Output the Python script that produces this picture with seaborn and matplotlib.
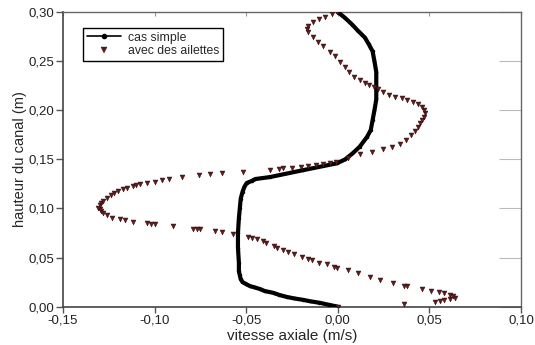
import matplotlib
matplotlib.use("Agg")
import matplotlib.pyplot as plt
import matplotlib.ticker as mticker
from matplotlib.lines import Line2D
import seaborn as sns
import pandas as pd

# cas simple (vitesse axiale, hauteur)
simple_v = [0.000, -0.005, -0.010, -0.015, -0.019, -0.024, -0.028, -0.032, -0.035, -0.040,
            -0.0425, -0.046, -0.048, -0.050, -0.052, -0.053, -0.0535, -0.054, -0.054, -0.0545,
            -0.0545, -0.054, -0.0535, -0.053, -0.052, -0.051, -0.0497, -0.047, -0.045, -0.037,
            -0.019, -0.0005, 0.004, 0.008, 0.012, 0.016, 0.018, 0.019, 0.020, 0.021,
            0.021, 0.021, 0.020, 0.019, 0.017, 0.0148, 0.011, 0.008, 0.004, 0.000]
simple_h = [0.000, 0.002, 0.004, 0.0055, 0.007, 0.0085, 0.010, 0.012, 0.014, 0.016,
            0.018, 0.020, 0.021, 0.023, 0.025, 0.028, 0.032, 0.036, 0.045, 0.060,
            0.075, 0.090, 0.100, 0.110, 0.117, 0.122, 0.126, 0.128, 0.130, 0.132,
            0.139, 0.146, 0.150, 0.156, 0.163, 0.173, 0.180, 0.190, 0.200, 0.211,
            0.225, 0.239, 0.250, 0.260, 0.267, 0.274, 0.281, 0.287, 0.294, 0.300]

# avec des ailettes
fins_v = [0.000, 0.036, 0.053, 0.056, 0.058, 0.061, 0.064, 0.063, 0.061, 0.058,
          0.055, 0.051, 0.046, 0.038, 0.036, 0.030, 0.023, 0.0175, 0.011, 0.0055,
          -0.0005, -0.002, -0.006, -0.010, -0.014, -0.016, -0.0196, -0.024, -0.027, -0.030,
          -0.033, -0.035, -0.039, -0.041, -0.044, -0.047, -0.049, -0.057, -0.063, -0.067,
          -0.075, -0.077, -0.079, -0.090, -0.100, -0.102, -0.104, -0.112, -0.116, -0.119,
          -0.123, -0.126, -0.128, -0.129, -0.130, -0.131, -0.130, -0.129, -0.128, -0.126,
          -0.124, -0.122, -0.120, -0.117, -0.115, -0.112, -0.110, -0.108, -0.104, -0.100,
          -0.096, -0.092, -0.085, -0.076, -0.070, -0.063, -0.052, -0.037, -0.032, -0.030,
          -0.025, -0.020, -0.016, -0.012, -0.008, -0.004, -0.001, 0.0055, 0.012, 0.0185,
          0.0246, 0.0295, 0.034, 0.037, 0.040, 0.042, 0.044, 0.045, 0.046, 0.047,
          0.0475, 0.047, 0.046, 0.044, 0.041, 0.038, 0.035, 0.031, 0.028, 0.0245,
          0.022, 0.020, 0.017, 0.0148, 0.012, 0.009, 0.006, 0.004, 0.001, -0.0016,
          -0.004, -0.008, -0.011, -0.0136, -0.0163, -0.017, -0.016, -0.0136, -0.010, -0.007,
          -0.003, -0.0005]
fins_h = [0.000, 0.003, 0.005, 0.006, 0.007, 0.008, 0.009, 0.011, 0.012, 0.014,
          0.015, 0.016, 0.018, 0.021, 0.0215, 0.024, 0.027, 0.030, 0.034, 0.037,
          0.039, 0.040, 0.043, 0.045, 0.048, 0.049, 0.051, 0.054, 0.056, 0.058,
          0.060, 0.062, 0.065, 0.067, 0.069, 0.070, 0.071, 0.074, 0.076, 0.077,
          0.079, 0.079, 0.079, 0.082, 0.084, 0.084, 0.085, 0.086, 0.088, 0.089,
          0.090, 0.093, 0.095, 0.097, 0.099, 0.101, 0.104, 0.106, 0.108, 0.111,
          0.114, 0.116, 0.118, 0.120, 0.121, 0.123, 0.124, 0.125, 0.126, 0.127,
          0.129, 0.130, 0.132, 0.134, 0.135, 0.136, 0.137, 0.139, 0.140, 0.141,
          0.141, 0.142, 0.143, 0.144, 0.145, 0.146, 0.147, 0.151, 0.155, 0.158,
          0.161, 0.163, 0.166, 0.170, 0.175, 0.179, 0.183, 0.187, 0.190, 0.193,
          0.197, 0.200, 0.203, 0.206, 0.208, 0.210, 0.212, 0.214, 0.216, 0.219,
          0.222, 0.224, 0.226, 0.228, 0.231, 0.234, 0.239, 0.244, 0.249, 0.255,
          0.259, 0.265, 0.270, 0.275, 0.280, 0.283, 0.286, 0.290, 0.293, 0.295,
          0.298, 0.300]

x_ticks = [-0.15, -0.10, -0.05, 0.00, 0.05, 0.10]
y_ticks = [0.00, 0.05, 0.10, 0.15, 0.20, 0.25, 0.30]

sns.set_style("white")
plt.rcParams['font.family'] = ['Liberation Sans', 'DejaVu Sans']

fig = plt.figure(figsize=(5.35, 3.45), dpi=100)
ax = fig.add_axes([0.1178, 0.111, 0.856, 0.854])

df_s = pd.DataFrame({"v": simple_v, "h": simple_h})
df_f = pd.DataFrame({"v": fins_v, "h": fins_h})

tri_color = "#5c1c1c"
sns.lineplot(data=df_s, x="v", y="h", sort=False, estimator=None, ax=ax,
             color="black", linewidth=3.0, marker="o", markersize=2.5,
             markeredgewidth=0, zorder=3)
sns.scatterplot(data=df_f, x="v", y="h", ax=ax, marker="v", s=13,
                color=tri_color, edgecolor="#2a0a0a", linewidth=0.3, zorder=4)

ax.set_xlim(-0.15, 0.10)
ax.set_ylim(0.0, 0.30)
ax.set_xticks(x_ticks)
ax.set_yticks(y_ticks)
fmt = mticker.FuncFormatter(lambda val, pos: f"{val:.2f}".replace(".", ",").replace("-0,00", "0,00"))
ax.xaxis.set_major_formatter(fmt)
ax.yaxis.set_major_formatter(fmt)

ax.tick_params(axis="both", which="major", labelsize=9.5, colors="#222222", pad=1.5)
ax.tick_params(axis="x", bottom=True, top=False, direction="out", length=4, width=1, color="#555555")
ax.tick_params(axis="y", left=True, right=False, direction="out", length=5, width=1, color="#555555")
# inward mirrored ticks on top and right
sec_x = ax.secondary_xaxis("top")
sec_x.set_xticks(x_ticks)
sec_x.tick_params(direction="in", length=3, color="#999999", labeltop=False)
sec_x.spines["top"].set_visible(False)
sec_y = ax.secondary_yaxis("right")
sec_y.set_yticks(y_ticks)
sec_y.tick_params(direction="in", length=16, color="#bbbbbb", labelright=False)
sec_y.spines["right"].set_visible(False)

for side in ["left", "bottom"]:
    ax.spines[side].set_color("#444444")
    ax.spines[side].set_linewidth(1.2)
for side in ["top", "right"]:
    ax.spines[side].set_color("#666666")
    ax.spines[side].set_linewidth(1.0)

ax.set_xlabel("vitesse axiale (m/s)", fontsize=11, labelpad=2)
ax.set_ylabel("hauteur du canal (m)", fontsize=10.5, labelpad=1)

handles = [
    Line2D([], [], color="black", linewidth=1.2, marker="o", markersize=3),
    Line2D([], [], linestyle="none", marker="v", markersize=4, color=tri_color,
           markeredgecolor="#2a0a0a", markeredgewidth=0.3),
]
leg = ax.legend(handles, ["cas simple", "avec des ailettes"], loc="upper left",
                bbox_to_anchor=(0.044, 0.946), borderaxespad=0, fontsize=8.8,
                frameon=True, fancybox=False, edgecolor="black", framealpha=1,
                handlelength=2.8, handletextpad=0.6, borderpad=0.3, labelspacing=0.15)
leg.get_frame().set_linewidth(1.0)

fig.savefig("out.png", dpi=100)
